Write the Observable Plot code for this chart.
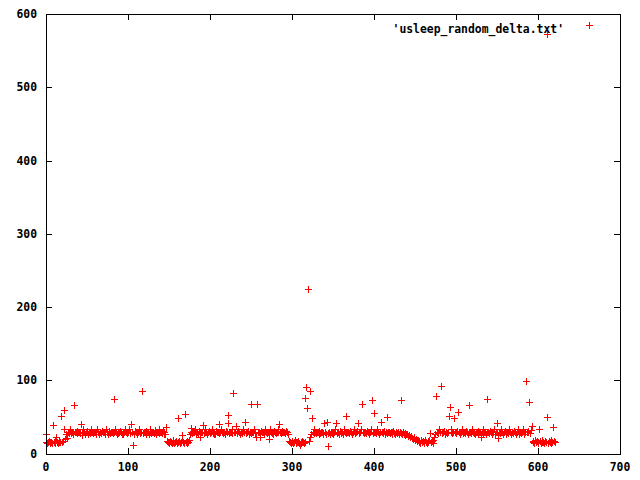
<!DOCTYPE html>
<html><head><meta charset="utf-8">
<script src="https://cdn.jsdelivr.net/npm/d3@7"></script>
<script src="https://cdn.jsdelivr.net/npm/@observablehq/plot@0.6"></script>
<style>body{margin:0;background:#fff} svg{display:block}</style>
</head><body><div id="chart"></div>
<script>
const seriesName = "'usleep_random_delta.txt'";
const delta = [
16,26,15,16,17,15,16,16,15,39,
16,15,17,22,16,15,16,17,16,51,
16,17,60,33,20,26,21,29,30,28,
33,28,30,29,26,66,30,29,31,28,
30,29,28,40,25,30,33,29,26,30,
29,31,27,30,28,29,33,30,28,29,
30,26,29,33,30,27,29,30,28,31,
29,30,26,29,33,30,27,29,31,28,
30,29,28,74,30,33,29,26,30,28,
29,31,30,26,29,27,30,34,29,28,
30,29,33,28,40,29,30,12,26,31,
29,30,27,29,33,28,30,29,85,28,
30,29,31,26,29,30,26,29,33,28,
29,30,28,32,29,27,30,29,33,28,
30,29,28,31,27,29,26,36,17,16,
15,16,17,16,15,18,16,15,16,17,
15,48,16,17,15,16,18,25,16,15,
54,16,17,15,16,18,27,29,35,28,
30,29,33,27,30,29,26,31,30,22,
29,30,39,28,33,29,30,27,29,31,
28,30,29,33,28,30,26,27,31,29,
30,28,40,29,33,30,28,29,30,26,
31,29,42,53,28,30,29,33,28,82,
30,29,37,28,30,31,29,26,30,29,
28,33,30,43,29,28,30,31,26,30,
28,67,30,29,33,28,30,22,67,29,
30,28,22,31,29,30,26,29,33,30,
28,29,20,30,33,29,28,30,26,31,
30,28,29,33,30,40,29,28,30,31,
29,30,28,31,29,30,27,17,16,15,
16,17,15,16,18,16,15,16,17,15,
11,16,15,17,16,15,76,16,91,62,
224,17,23,86,27,49,30,28,33,29,
28,30,29,26,31,28,30,29,26,28,
41,29,27,43,10,28,30,27,29,28,
30,27,29,33,42,28,30,29,26,31,
28,30,29,27,33,30,28,51,29,30,
28,31,29,30,26,29,33,28,30,29,
31,42,28,30,29,33,67,30,28,29,
30,28,31,29,26,30,29,33,73,28,
55,30,29,28,33,30,29,27,30,43,
29,28,30,31,26,29,28,50,30,29,
28,30,27,29,31,28,26,29,30,28,
29,27,30,73,28,26,29,27,28,25,
27,26,24,25,23,22,24,21,20,22,
19,18,20,17,18,16,17,15,18,16,
17,15,16,18,16,15,17,16,18,28,
16,17,15,18,22,26,78,29,30,28,
33,29,92,30,28,29,31,26,30,29,
28,30,51,63,29,33,28,30,49,29,
30,28,31,56,29,30,26,29,33,28,
30,29,28,31,30,27,66,29,30,28,
33,29,30,28,26,30,29,31,28,30,
29,22,30,28,33,29,30,27,29,74,
30,28,31,29,30,26,29,33,27,30,
29,42,21,30,28,33,29,30,26,29,
31,27,30,29,28,33,30,29,26,30,
28,31,29,30,26,29,33,27,30,29,
28,30,33,29,27,30,99,29,31,30,
70,28,32,37,17,16,15,18,16,17,
15,16,33,17,15,16,18,16,15,17,
16,50,573,15,17,16,18,15,16,36,
17,16
];
const xTicks = [0,100,200,300,400,500,600,700];
const yTicks = [0,100,200,300,400,500,600];

const plusSymbol = {
  draw(ctx, size) {
    const h = Math.sqrt(size / Math.PI);
    ctx.moveTo(-h, 0); ctx.lineTo(h, 0);
    ctx.moveTo(0, -h); ctx.lineTo(0, h);
  }
};

const points = delta.map((v, i) => ({i, v}));
const W = 640, H = 480, mL = 45.5, mR = 20.5, mT = 14, mB = 26.5;
const innerW = W - mL - mR, innerH = H - mT - mB;
const tickLen = 6;

const chart = Plot.plot({
  width: W, height: H,
  marginLeft: mL, marginRight: mR, marginTop: mT, marginBottom: mB,
  style: {fontFamily: "'DejaVu Sans Mono', monospace", fontWeight: "bold", fontSize: "11.4px", background: "#fff", color: "#000"},
  x: {domain: [0, 700]},
  y: {domain: [0, 600]},
  marks: [
    Plot.dot(points, {x: "i", y: "v", r: 3.5, symbol: plusSymbol, stroke: "#ff0000", fill: "none", strokeWidth: 1, shapeRendering: "crispEdges"}),
    Plot.frame({stroke: "#000", shapeRendering: "crispEdges"}),
    Plot.tickX(xTicks, {x: d => d, insetTop: innerH - tickLen, stroke: "#000", shapeRendering: "crispEdges"}),
    Plot.tickX(xTicks, {x: d => d, insetBottom: innerH - tickLen, stroke: "#000", shapeRendering: "crispEdges"}),
    Plot.tickY(yTicks, {y: d => d, insetRight: innerW - tickLen, stroke: "#000", shapeRendering: "crispEdges"}),
    Plot.tickY(yTicks, {y: d => d, insetLeft: innerW - tickLen, stroke: "#000", shapeRendering: "crispEdges"}),
    Plot.axisX(xTicks, {tickSize: 0, tickPadding: 9, label: null, tickFormat: d => String(d)}),
    Plot.axisY(yTicks, {tickSize: 0, tickPadding: 9, label: null, tickFormat: d => String(d)}),
    Plot.text([seriesName], {text: d => d, frameAnchor: "top-right", textAnchor: "end", dx: -56, dy: 10, fill: "#000"}),
    Plot.dot([seriesName], {frameAnchor: "top-right", dx: -31, dy: 10.5, r: 3.5, symbol: plusSymbol, stroke: "#ff0000", fill: "none", strokeWidth: 1, shapeRendering: "crispEdges"})
  ]
});
document.getElementById("chart").appendChild(chart);
</script>
</body></html>
